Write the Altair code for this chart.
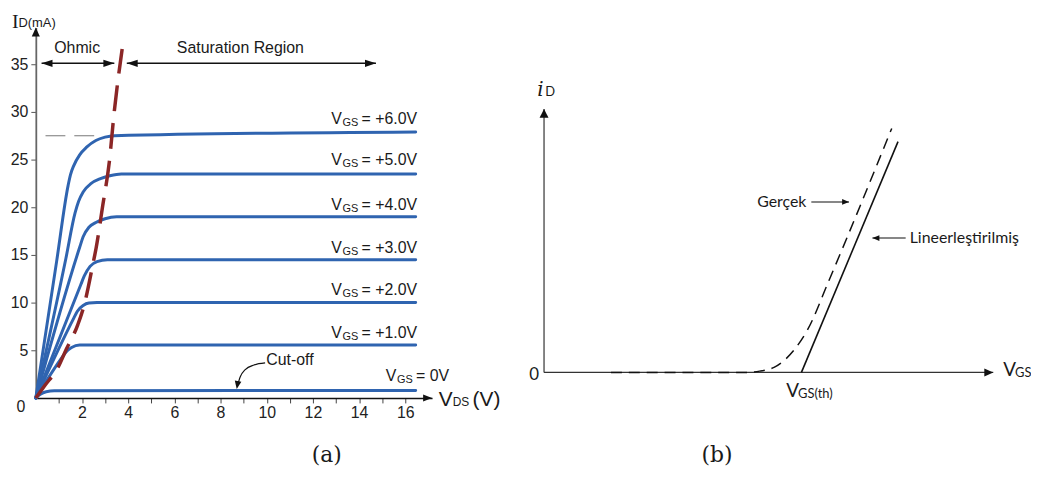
import altair as alt
import pandas as pd

# ====================== panel (a): MOSFET output characteristics ======================
vds_ticks = list(range(1, 17))
id_ticks = [5, 10, 15, 20, 25, 30, 35]

vgs0_x = [0, 0.2, 0.45, 0.8, 16.45]
vgs0_y = [0, 0.4, 0.65, 0.75, 0.78]
vgs1_x = [0, 1.15, 1.3, 1.55, 1.9, 16.45]
vgs1_y = [0, 4.3, 4.8, 5.3, 5.55, 5.55]
vgs2_x = [0, 1.65, 1.8, 2.05, 2.3, 2.65, 16.45]
vgs2_y = [0, 8.4, 9.1, 9.7, 9.95, 10.0, 10.0]
vgs3_x = [0, 1.95, 2.1, 2.35, 2.65, 3.1, 16.45]
vgs3_y = [0, 11.9, 12.8, 13.8, 14.3, 14.5, 14.5]
vgs4_x = [0, 1.9, 2.05, 2.3, 2.6, 3.0, 3.5, 16.45]
vgs4_y = [0, 15.8, 16.9, 17.9, 18.4, 18.8, 19.0, 19.0]
vgs5_x = [0, 1.3, 1.7, 1.85, 2.05, 2.4, 2.8, 3.2, 3.7, 16.45]
vgs5_y = [0, 14.6, 19.4, 20.6, 21.6, 22.5, 23.0, 23.3, 23.5, 23.5]
vgs6_x = [0, 0.9, 1.4, 1.5, 1.65, 1.9, 2.2, 2.6, 3.0, 3.4, 16.45]
vgs6_y = [0, 14.3, 22.3, 23.4, 24.4, 25.5, 26.3, 27.0, 27.35, 27.5, 27.9]

vgs_values = ["= 0V", "= +1.0V", "= +2.0V", "= +3.0V", "= +4.0V", "= +5.0V", "= +6.0V"]
vgs_label_x = [15.15, 12.79, 12.79, 12.79, 12.79, 12.79, 12.79]
vgs_label_y = [1.80, 6.32, 10.83, 15.24, 19.76, 24.40, 28.78]

# ohmic / saturation boundary (dashed red)
bound_x = [0, 0.39, 0.96, 1.32, 1.82, 2.1, 2.47, 2.61, 2.9, 3.18, 3.4, 3.74]
bound_y = [0, 1.3, 3.2, 5.1, 7.7, 9.8, 14.0, 15.7, 20.2, 24.7, 30.1, 36.6]

# thin gray guide at the 6 V knee
guide_x = [0.42, 2.65]
guide_y = [27.5, 27.5]

# region arrows (y level, start, end)
region_names = ["Ohmic", "Saturation Region"]
region_x1 = [0.25, 3.94]
region_x2 = [3.40, 14.73]
region_y = [35.1, 35.1]
region_label_x = [1.79, 8.86]
region_label_y = [36.18, 36.18]

# cut-off pointer
cut_x = [8.74, 8.85, 9.07, 9.45, 9.93]
cut_y = [1.35, 2.2, 2.97, 3.45, 3.67]
cut_tip = (8.70, 0.95)
cut_label = (9.98, 3.44)

# ====================== panel (b): transfer characteristic ======================
real_x = [1.49, 4.47, 4.8, 5.12, 5.58, 5.87, 6.35, 7.74]
real_y = [0, 0, 0.05, 0.19, 0.88, 1.63, 3.52, 9.26]
lin_x = [5.73, 7.88]
lin_y = [0, 8.76]

gercek_arrow_x = [5.95, 6.79]
gercek_arrow_y = [6.47, 6.47]
lineer_arrow_x = [7.31, 8.05]
lineer_arrow_y = [5.10, 5.10]

# ====================== layout (pixels inside the view) ======================
W, H = 1030, 475
LX0, LKX = 28, 23.25
LY0, LKY = 391, 9.6
LXMAX, LYMAX = 17.16, 38.85
RX0, RX1 = 539.7, 992.0
RY0, RY1 = 365.3, 100.0

SANS = "Liberation Sans"
CAL = "Lato"
INK = "#1a1a1a"
BLUE = "#2f64b0"
RED = "#8b2626"

XL = alt.X(
    "x:Q", title=None,
    scale=alt.Scale(domain=[0, LXMAX], range=[LX0, LX0 + LXMAX * LKX], nice=False, zero=False),
    axis=alt.Axis(orient="bottom", offset=-(H - LY0), values=vds_ticks,
                  labelExpr="datum.value % 2 == 0 ? datum.label : ''",
                  grid=False, tickSize=5, tickColor="#444", tickWidth=1,
                  domainColor="#111", domainWidth=1.5,
                  labelFont=SANS, labelFontSize=16, labelColor="#222",
                  labelPadding=2, labelFlush=False, labelOverlap=False),
)
YL = alt.Y(
    "y:Q", title=None,
    scale=alt.Scale(domain=[0, LYMAX], range=[LY0, LY0 - LYMAX * LKY], nice=False, zero=False),
    axis=alt.Axis(orient="left", offset=-LX0, values=id_ticks,
                  grid=False, tickSize=5, tickColor="#555", tickWidth=1,
                  domainColor="#666", domainWidth=1.8,
                  labelFont=SANS, labelFontSize=16, labelColor="#222",
                  labelPadding=3, labelFlush=False, labelOverlap=False),
)
XR = alt.X("x:Q", title=None, axis=None,
           scale=alt.Scale(domain=[0, 10], range=[RX0, RX1], nice=False, zero=False))
YR = alt.Y("y:Q", title=None, axis=None,
           scale=alt.Scale(domain=[0, 10], range=[RY0, RY1], nice=False, zero=False))


def head(w):
    return f"M0,0L-1,{-w}L-1,{w}Z"


def pts(xs, ys):
    return pd.DataFrame({"x": xs, "y": ys, "i": list(range(len(xs)))})


# ---------- panel (a) layers ----------
curve_rows = []
for name, xs, ys in [("0", vgs0_x, vgs0_y), ("1", vgs1_x, vgs1_y), ("2", vgs2_x, vgs2_y),
                     ("3", vgs3_x, vgs3_y), ("4", vgs4_x, vgs4_y), ("5", vgs5_x, vgs5_y),
                     ("6", vgs6_x, vgs6_y)]:
    for i, (a, b) in enumerate(zip(xs, ys)):
        curve_rows.append({"c": name, "i": i, "x": a, "y": b})
curves_df = pd.DataFrame(curve_rows)

curves = alt.Chart(curves_df).mark_line(
    interpolate="monotone", strokeWidth=3, color=BLUE, strokeCap="round"
).encode(x=XL, y=YL, detail="c:N", order="i:Q")

guide = alt.Chart(pts(guide_x, guide_y)).mark_line(
    strokeDash=[20, 9], strokeWidth=1, color="#777"
).encode(x=XL, y=YL)

boundary = alt.Chart(pts(bound_x, bound_y)).mark_line(
    interpolate="monotone", strokeDash=[26, 12], strokeWidth=3.5, color=RED
).encode(x=XL, y=YL, order="i:Q")

region_df = pd.DataFrame({"x": region_x1, "x2": region_x2, "y": region_y})
region_rules = alt.Chart(region_df).mark_rule(strokeWidth=1.6, color="#111").encode(
    x=XL, x2="x2:Q", y=YL)
region_left = alt.Chart(pd.DataFrame({"x": region_x1, "y": region_y})).mark_point(
    shape=head(0.33), filled=True, size=4 * 11 ** 2, angle=180, color="#111", opacity=1
).encode(x=XL, y=YL)
region_right = alt.Chart(pd.DataFrame({"x": region_x2, "y": region_y})).mark_point(
    shape=head(0.33), filled=True, size=4 * 11 ** 2, angle=0, color="#111", opacity=1
).encode(x=XL, y=YL)
region_text = alt.Chart(pd.DataFrame({"x": region_label_x, "y": region_label_y, "t": region_names})
                        ).mark_text(font=SANS, fontSize=16, color=INK, align="center",
                                    baseline="alphabetic").encode(x=XL, y=YL, text="t:N")

axis_up = alt.Chart(pd.DataFrame({"x": [0], "y": [LYMAX]})).mark_point(
    shape=head(0.45), filled=True, size=4 * 9 ** 2, angle=270, color="#111", opacity=1
).encode(x=XL, y=YL)
axis_right = alt.Chart(pd.DataFrame({"x": [LXMAX], "y": [0]})).mark_point(
    shape=head(0.4), filled=True, size=4 * 9 ** 2, angle=0, color="#111", opacity=1
).encode(x=XL, y=YL)

lab_df = pd.DataFrame({"x": vgs_label_x, "y": vgs_label_y, "t": vgs_values})
lab_v = alt.Chart(lab_df).mark_text(font=SANS, fontSize=16, color=INK, align="left",
                                    baseline="alphabetic", text="V").encode(x=XL, y=YL)
lab_gs = alt.Chart(lab_df).mark_text(font=SANS, fontSize=11, color=INK, align="left",
                                     baseline="alphabetic", dx=11.5, dy=2, text="GS"
                                     ).encode(x=XL, y=YL)
lab_val = alt.Chart(lab_df).mark_text(font=SANS, fontSize=16, color=INK, align="left",
                                      baseline="alphabetic", dx=30.5).encode(x=XL, y=YL, text="t:N")

cut_line = alt.Chart(pts(cut_x, cut_y)).mark_line(
    interpolate="monotone", strokeWidth=1.2, color="#111").encode(x=XL, y=YL)
cut_head = alt.Chart(pd.DataFrame({"x": [cut_tip[0]], "y": [cut_tip[1]]})).mark_point(
    shape=head(0.42), filled=True, size=4 * 8 ** 2, angle=100, color="#111", opacity=1
).encode(x=XL, y=YL)
cut_text = alt.Chart(pd.DataFrame({"x": [cut_label[0]], "y": [cut_label[1]], "t": ["Cut-off"]})
                     ).mark_text(font=SANS, fontSize=16, color=INK, align="left",
                                 baseline="alphabetic").encode(x=XL, y=YL, text="t:N")

origin_a = alt.Chart(pd.DataFrame({"x": [-0.65], "y": [-1.49], "t": ["0"]})).mark_text(
    font=SANS, fontSize=16, color="#222", align="center", baseline="alphabetic"
).encode(x=XL, y=YL, text="t:N")

id_i = alt.Chart(pd.DataFrame({"x": [-1.03], "y": [38.85], "t": ["I"]})).mark_text(
    font="Liberation Serif", fontSize=20, color=INK, align="left", baseline="alphabetic"
).encode(x=XL, y=YL, text="t:N")
id_sub = alt.Chart(pd.DataFrame({"x": [-0.75], "y": [38.9], "t": ["D(mA)"]})).mark_text(
    font=SANS, fontSize=13, color=INK, align="left", baseline="alphabetic"
).encode(x=XL, y=YL, text="t:N")

vds_df = pd.DataFrame({"x": [17.45], "y": [-0.8]})
vds_v = alt.Chart(vds_df).mark_text(font=SANS, fontSize=21, color=INK, align="left",
                                    baseline="alphabetic", text="V").encode(x=XL, y=YL)
vds_sub = alt.Chart(vds_df).mark_text(font=SANS, fontSize=12, color=INK, align="left",
                                      baseline="alphabetic", dx=14, text="DS").encode(x=XL, y=YL)
vds_unit = alt.Chart(vds_df).mark_text(font=SANS, fontSize=21, color=INK, align="left",
                                       baseline="alphabetic", dx=34, text="(V)").encode(x=XL, y=YL)

cap_a = alt.Chart(pd.DataFrame({"x": [12.6], "y": [-6.0], "t": ["(a)"]})).mark_text(
    font="DejaVu Serif", fontSize=22, color=INK, align="center", baseline="middle"
).encode(x=XL, y=YL, text="t:N")

panel_a = alt.layer(
    curves, guide, boundary, region_rules, region_left, region_right, region_text,
    axis_up, axis_right, lab_v, lab_gs, lab_val, cut_line, cut_head, cut_text,
    origin_a, id_i, id_sub, vds_v, vds_sub, vds_unit, cap_a,
)

# ---------- panel (b) layers ----------
axes_b = alt.Chart(pd.DataFrame({"x": [0, 0], "x2": [0, 10], "y": [0, 0], "y2": [10, 0]})
                   ).mark_rule(strokeWidth=1.2, color="#333").encode(x=XR, x2="x2:Q", y=YR, y2="y2:Q")
b_up = alt.Chart(pd.DataFrame({"x": [0], "y": [10]})).mark_point(
    shape=head(0.5), filled=True, size=4 * 9 ** 2, angle=270, color="#111", opacity=1
).encode(x=XR, y=YR)
b_right = alt.Chart(pd.DataFrame({"x": [10], "y": [0]})).mark_point(
    shape=head(0.45), filled=True, size=4 * 9 ** 2, angle=0, color="#111", opacity=1
).encode(x=XR, y=YR)

real = alt.Chart(pts(real_x, real_y)).mark_line(
    interpolate="monotone", strokeDash=[11, 7], strokeWidth=1.5, color="#111"
).encode(x=XR, y=YR, order="i:Q")
lin = alt.Chart(pts(lin_x, lin_y)).mark_line(strokeWidth=1.6, color="#111").encode(x=XR, y=YR)

g_arrow = alt.Chart(pts(gercek_arrow_x, gercek_arrow_y)).mark_line(
    strokeWidth=1.1, color="#111").encode(x=XR, y=YR)
g_head = alt.Chart(pd.DataFrame({"x": [gercek_arrow_x[1]], "y": [gercek_arrow_y[1]]})).mark_point(
    shape=head(0.42), filled=True, size=4 * 7 ** 2, angle=0, color="#111", opacity=1
).encode(x=XR, y=YR)
l_arrow = alt.Chart(pts(lineer_arrow_x, lineer_arrow_y)).mark_line(
    strokeWidth=1.1, color="#111").encode(x=XR, y=YR)
l_head = alt.Chart(pd.DataFrame({"x": [lineer_arrow_x[0]], "y": [lineer_arrow_y[0]]})).mark_point(
    shape=head(0.42), filled=True, size=4 * 7 ** 2, angle=180, color="#111", opacity=1
).encode(x=XR, y=YR)

g_text = alt.Chart(pd.DataFrame({"x": [5.84], "y": [6.47], "t": ["Gerçek"]})).mark_text(
    font=CAL, fontSize=16, color=INK, align="right", baseline="middle"
).encode(x=XR, y=YR, text="t:N")
l_text = alt.Chart(pd.DataFrame({"x": [8.14], "y": [5.10], "t": ["Lineerleştirilmiş"]})).mark_text(
    font=CAL, fontSize=16, color=INK, align="left", baseline="middle"
).encode(x=XR, y=YR, text="t:N")

zero_b = alt.Chart(pd.DataFrame({"x": [-0.22], "y": [-0.1], "t": ["0"]})).mark_text(
    font=CAL, fontSize=17, color=INK, align="center", baseline="middle"
).encode(x=XR, y=YR, text="t:N")

id_df = pd.DataFrame({"x": [-0.15], "y": [10.49]})
idb_i = alt.Chart(id_df).mark_text(font="DejaVu Serif", fontStyle="italic", fontSize=20,
                                   color=INK, align="left", baseline="alphabetic", text="i"
                                   ).encode(x=XR, y=YR)
idb_d = alt.Chart(id_df).mark_text(font=CAL, fontSize=13, color=INK, align="left",
                                   baseline="alphabetic", dx=8, text="D").encode(x=XR, y=YR)

vgs_df = pd.DataFrame({"x": [10.22], "y": [-0.13]})
vgsb_v = alt.Chart(vgs_df).mark_text(font=CAL, fontSize=19, color=INK, align="left",
                                     baseline="alphabetic", text="V").encode(x=XR, y=YR)
vgsb_s = alt.Chart(vgs_df).mark_text(font=CAL, fontSize=13, color=INK, align="left",
                                     baseline="alphabetic", dx=12, dy=1, text="GS").encode(x=XR, y=YR)

vth_df = pd.DataFrame({"x": [5.39], "y": [-0.94]})
vth_v = alt.Chart(vth_df).mark_text(font=CAL, fontSize=19, color=INK, align="left",
                                    baseline="alphabetic", text="V").encode(x=XR, y=YR)
vth_s = alt.Chart(vth_df).mark_text(font=CAL, fontSize=13, color=INK, align="left",
                                    baseline="alphabetic", dx=12, dy=1, text="GS(th)").encode(x=XR, y=YR)

cap_b = alt.Chart(pd.DataFrame({"x": [3.85], "y": [-3.14], "t": ["(b)"]})).mark_text(
    font="DejaVu Serif", fontSize=22, color=INK, align="center", baseline="middle"
).encode(x=XR, y=YR, text="t:N")

panel_b = alt.layer(
    axes_b, b_up, b_right, real, lin, g_arrow, g_head, l_arrow, l_head, g_text, l_text,
    zero_b, idb_i, idb_d, vgsb_v, vgsb_s, vth_v, vth_s, cap_b,
)

chart = alt.layer(panel_a, panel_b).resolve_scale(
    x="independent", y="independent"
).properties(
    width=W, height=H, padding=0, autosize=alt.AutoSizeParams(type="none"),
    background="white",
).configure_view(stroke=None)

chart.save("out.html", embed_options={"renderer": "svg", "actions": False})
